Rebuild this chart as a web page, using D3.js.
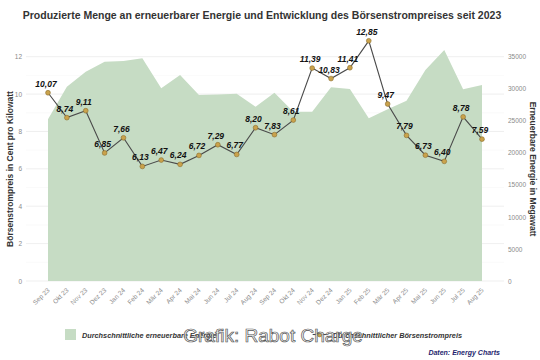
<!DOCTYPE html>
<html><head><meta charset="utf-8">
<script src="https://cdn.jsdelivr.net/npm/d3@7"></script>
<style>body{margin:0;background:#fff}svg{display:block}text{font-family:"Liberation Sans",Arial,sans-serif}</style>
</head><body><svg id="c" width="540" height="360"></svg>
<script>
const months = ["Sep 23","Okt 23","Nov 23","Dez 23","Jan 24","Feb 24","Mär 24","Apr 24","Mai 24","Jun 24","Jul 24","Aug 24","Sep 24","Okt 24","Nov 24","Dez 24","Jan 25","Feb 25","Mär 25","Apr 25","Mai 25","Jun 25","Jul 25","Aug 25"];
const price = [10.07,8.74,9.11,6.85,7.66,6.13,6.47,6.24,6.72,7.29,6.77,8.20,7.83,8.61,11.39,10.83,11.41,12.85,9.47,7.79,6.73,6.40,8.78,7.59];
const energy = [25230,30320,32660,34220,34330,34750,30070,32140,29020,29100,29200,27200,29380,26420,26420,30220,29960,25390,26790,28130,32920,36040,29910,30580];
const leftTicks = [0,2,4,6,8,10,12];
const rightTicks = [0,5000,10000,15000,20000,25000,30000,35000];

const svg = d3.select("#c");
const x = d3.scalePoint().domain(months).range([48, 482]);
const yL = d3.scaleLinear().domain([0,12]).range([281, 56.7]);
const yR = d3.scaleLinear().domain([0,35000]).range([281, 56.7]);
const panelL = 26, panelR = 504;

// gridlines
svg.append("g").selectAll("line").data(leftTicks).join("line")
  .attr("x1", panelL).attr("x2", panelR)
  .attr("y1", d=>yL(d)).attr("y2", d=>yL(d))
  .attr("stroke","#ebebeb").attr("stroke-width",0.8);
svg.append("g").selectAll("line").data(leftTicks.slice(0,-1)).join("line")
  .attr("x1", panelL).attr("x2", panelR)
  .attr("y1", d=>yL(d+1)).attr("y2", d=>yL(d+1))
  .attr("stroke","#f4f4f4").attr("stroke-width",0.5);

// area
const area = d3.area().x((d,i)=>x(months[i])).y0(yR(0)).y1(d=>yR(d));
svg.append("path").datum(energy).attr("d", area).attr("fill","#c6dcc4");

// line
const line = d3.line().x((d,i)=>x(months[i])).y(d=>yL(d));
svg.append("path").datum(price).attr("d", line).attr("fill","none")
  .attr("stroke","#4a4a4a").attr("stroke-width",1.1);
svg.append("g").selectAll("circle").data(price).join("circle")
  .attr("cx",(d,i)=>x(months[i])).attr("cy",d=>yL(d)).attr("r",2.4)
  .attr("fill","#c9a24c").attr("stroke","#8c6d2c").attr("stroke-width",0.6);
const fmt = d=>d3.format(".2f")(d).replace(".",",");
svg.append("g").selectAll("text").data(price).join("text")
  .attr("x",(d,i)=>x(months[i])-2).attr("y",d=>yL(d)-6)
  .attr("text-anchor","middle").attr("font-size",8.5).attr("font-weight","bold")
  .attr("font-style","italic").attr("fill","#111").text(fmt);

// axes
const axL = d3.axisLeft(yL).tickValues(leftTicks).tickSize(0).tickPadding(4);
const gL = svg.append("g").attr("transform",`translate(${panelL},0)`).call(axL);
const axR = d3.axisRight(yR).tickValues(rightTicks).tickFormat(d3.format("d")).tickSize(0).tickPadding(4);
const gR = svg.append("g").attr("transform",`translate(${panelR},0)`).call(axR);
const axB = d3.axisBottom(x).tickSize(0).tickPadding(0);
const gB = svg.append("g").attr("transform",`translate(0,286)`).call(axB);
[gL,gR,gB].forEach(g=>{g.select(".domain").remove();
  g.selectAll("text").attr("font-size",6.5).attr("fill","#8a8a8a").attr("font-family","Liberation Sans, Arial, sans-serif");});
gB.selectAll("text").attr("text-anchor","end").attr("dy","0.35em")
  .attr("transform","translate(0,3) rotate(-45)");

// titles
svg.append("text").attr("x",262).attr("y",19).attr("text-anchor","middle")
  .attr("font-size",10.5).attr("font-weight","bold").attr("fill","#333")
  .text("Produzierte Menge an erneuerbarer Energie und Entwicklung des Börsenstrompreises seit 2023");
svg.append("text").attr("transform","translate(13,169) rotate(-90)").attr("text-anchor","middle")
  .attr("font-size",8.5).attr("font-weight","bold").attr("fill","#333")
  .text("Börsenstrompreis in Cent pro Kilowatt");
svg.append("text").attr("transform","translate(530,169) rotate(90)").attr("text-anchor","middle")
  .attr("font-size",8.5).attr("font-weight","bold").attr("fill","#333")
  .text("Erneuerbare Energie in Megawatt");

// legend
const lg = svg.append("g");
lg.append("rect").attr("x",65).attr("y",329).attr("width",11).attr("height",11).attr("fill","#c6dcc4");
lg.append("text").attr("x",82).attr("y",337.5).attr("font-size",7.3).attr("font-weight","bold")
  .attr("font-style","italic").attr("fill","#333").text("Durchschnittliche erneuerbare Energie");
const t2 = lg.append("text").attr("x",462).attr("y",337.5).attr("text-anchor","end").attr("font-size",7.3)
  .attr("font-weight","bold").attr("font-style","italic").attr("fill","#333")
  .text("Durchschnittlicher Börsenstrompreis");
const w2 = t2.node().getComputedTextLength();
const kx = 462 - w2 - 20;
lg.append("line").attr("x1",kx).attr("x2",kx+14).attr("y1",334.5).attr("y2",334.5).attr("stroke","#4a4a4a").attr("stroke-width",1.1);
lg.append("circle").attr("cx",kx+7).attr("cy",334.5).attr("r",2.4).attr("fill","#c9a24c").attr("stroke","#8c6d2c").attr("stroke-width",0.6);

// watermark
svg.append("text").attr("x",273).attr("y",342).attr("text-anchor","middle").attr("font-size",19)
  .attr("fill","#fff").attr("fill-opacity",0.85).attr("stroke","#555").attr("stroke-width",0.7)
  .text("Grafik: Rabot Charge");

svg.append("text").attr("x",500).attr("y",355).attr("text-anchor","end").attr("font-size",7)
  .attr("font-weight","bold").attr("font-style","italic").attr("fill","#1f1f6e").text("Daten: Energy Charts");
</script></body></html>
